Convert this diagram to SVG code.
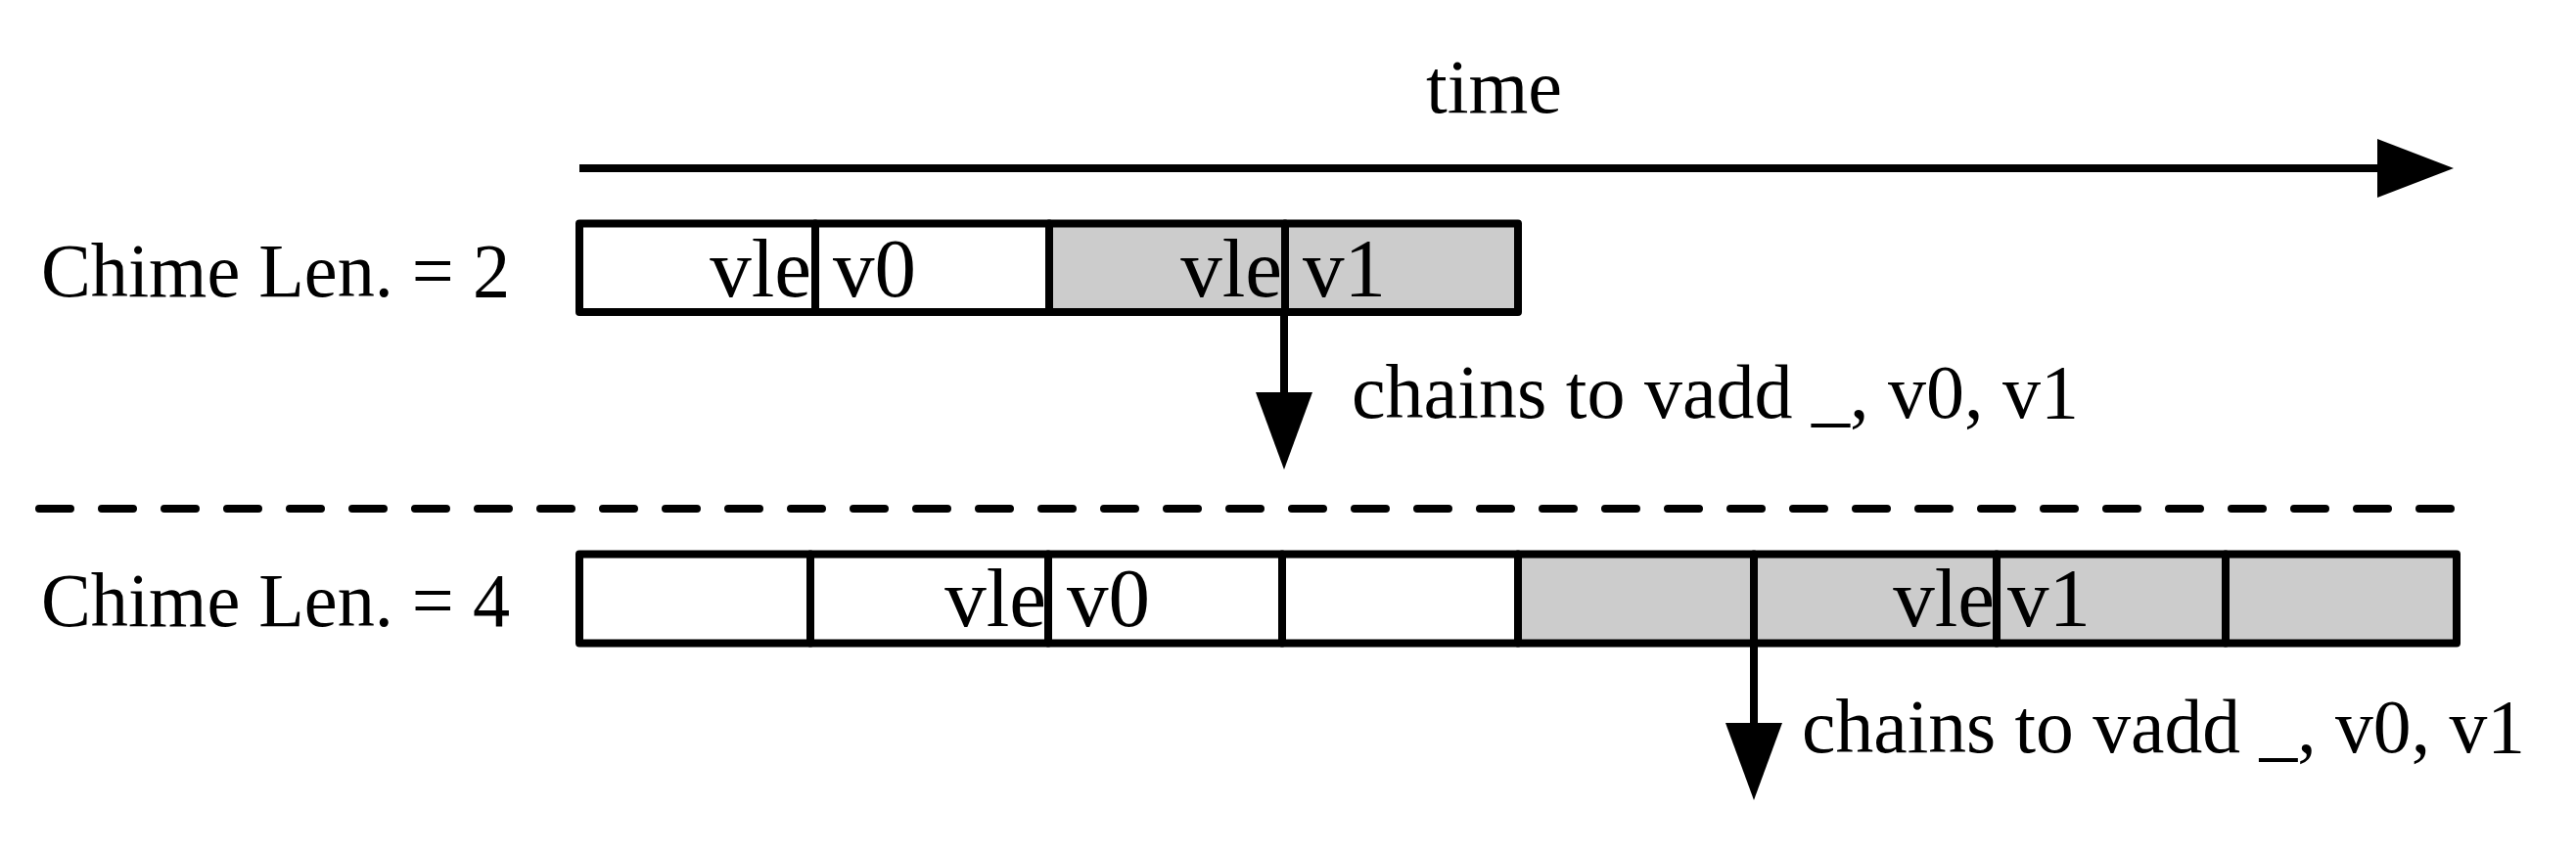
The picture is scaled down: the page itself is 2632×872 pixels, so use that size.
<svg xmlns="http://www.w3.org/2000/svg" width="2632" height="872" viewBox="0 0 2632 872">
<style>
  .lbl { font-family: "Liberation Serif", "DejaVu Serif", serif; font-size: 78px; fill: #000; }
  .cellt { font-family: "Liberation Serif", "DejaVu Serif", serif; font-size: 85px; fill: #000; }
  .w { fill: #ffffff; stroke: #000; stroke-width: 8; stroke-linejoin: round; }
  .g { fill: #cccccc; stroke: #000; stroke-width: 8; stroke-linejoin: round; }
  .ln { stroke: #000; stroke-width: 8; fill: none; stroke-linecap: butt; }
  .ah { fill: #000; stroke: none; }
  .dash { stroke: #000; stroke-width: 8; fill: none; stroke-linecap: round; stroke-dasharray: 32 32; }
</style>
<rect width="2632" height="872" fill="#ffffff"/>

<g id="time-label"><text class="lbl" x="1457" y="115" textLength="139" lengthAdjust="spacingAndGlyphs">time</text></g>
<g id="label-chime2"><text class="lbl" x="42" y="303" textLength="479" lengthAdjust="spacingAndGlyphs">Chime Len. = 2</text></g>
<g id="label-chime4"><text class="lbl" x="42" y="640" textLength="479" lengthAdjust="spacingAndGlyphs">Chime Len. = 4</text></g>

<g id="row-chime2">
  <rect class="w" x="592" y="228.5" width="241" height="90.5"/>
  <rect class="w" x="833" y="228.5" width="239" height="90.5"/>
  <rect class="g" x="1072" y="228.5" width="241" height="90.5"/>
  <rect class="g" x="1313" y="228.5" width="238" height="90.5"/>
  <text class="cellt" x="829" y="303" text-anchor="end">vle</text>
  <text class="cellt" x="851" y="303">v0</text>
  <text class="cellt" x="1310" y="303" text-anchor="end">vle</text>
  <text class="cellt" x="1331" y="303">v1</text>
</g>

<line id="separator" class="dash" x1="40" y1="520" x2="2504" y2="520"/>

<g id="row-chime4">
  <rect class="w" x="592" y="566.5" width="236" height="91"/>
  <rect class="w" x="828" y="566.5" width="243" height="91"/>
  <rect class="w" x="1071" y="566.5" width="239" height="91"/>
  <rect class="w" x="1310" y="566.5" width="241" height="91"/>
  <rect class="g" x="1551" y="566.5" width="241" height="91"/>
  <rect class="g" x="1792" y="566.5" width="248" height="91"/>
  <rect class="g" x="2040" y="566.5" width="234" height="91"/>
  <rect class="g" x="2274" y="566.5" width="236" height="91"/>
  <text class="cellt" x="1069" y="640" text-anchor="end">vle</text>
  <text class="cellt" x="1090" y="640">v0</text>
  <text class="cellt" x="2038" y="640" text-anchor="end">vle</text>
  <text class="cellt" x="2051" y="640">v1</text>
</g>

<g id="connectors">
  <line class="ln" x1="592" y1="172" x2="2432" y2="172" stroke-linecap="round"/>
  <polygon class="ah" points="2429,142 2507,172 2429,202"/>
  <line class="ln" x1="1312" y1="319" x2="1312" y2="403"/>
  <polygon class="ah" points="1283,401 1341,401 1312,480"/>
  <line class="ln" x1="1792" y1="658" x2="1792" y2="741"/>
  <polygon class="ah" points="1763,739 1821,739 1792,818"/>
</g>

<g id="chain-label-1"><text class="lbl" x="1381" y="427" textLength="743" lengthAdjust="spacingAndGlyphs">chains to vadd _, v0, v1</text></g>
<g id="chain-label-2"><text class="lbl" x="1841" y="769" textLength="739" lengthAdjust="spacingAndGlyphs">chains to vadd _, v0, v1</text></g>
</svg>
